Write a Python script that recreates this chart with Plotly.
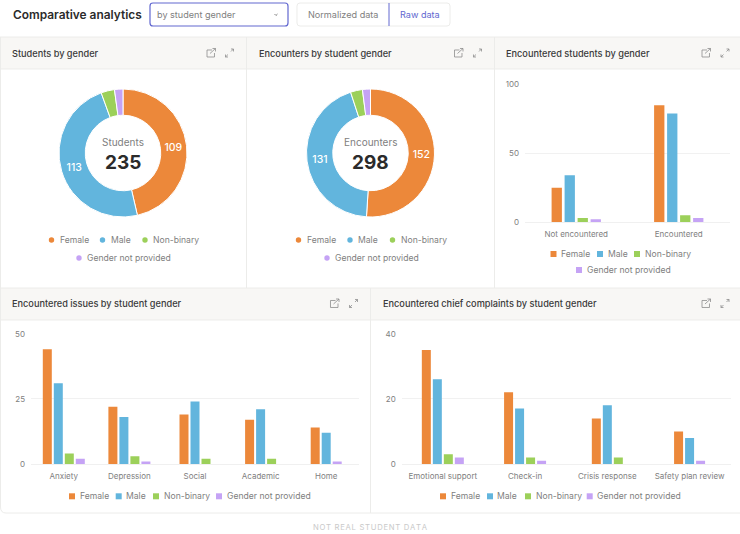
import plotly.graph_objects as go

W, H = 740, 534
GENDERS = ["Female", "Male", "Non-binary", "Gender not provided"]
COLORS = ["#EC883A", "#62B5DD", "#9CD05A", "#C5A3F5"]

students_total = 235
students_values = [109, 113, 8, 5]
encounters_total = 298
encounters_values = [152, 131, 9, 6]

enc_categories = ["Not encountered", "Encountered"]
enc_female = [25, 85]
enc_male = [34, 79]
enc_nonbinary = [3, 5]
enc_notprovided = [2, 3]
enc_ticks = [0, 50, 100]

issue_categories = ["Anxiety", "Depression", "Social", "Academic", "Home"]
issue_female = [44, 22, 19, 17, 14]
issue_male = [31, 18, 24, 21, 12]
issue_nonbinary = [4, 3, 2, 2, 0]
issue_notprovided = [2, 1, 0, 0, 1]
issue_ticks = [0, 25, 50]

complaint_categories = ["Emotional support", "Check-in", "Crisis response", "Safety plan review"]
complaint_female = [35, 22, 14, 10]
complaint_male = [26, 17, 18, 8]
complaint_nonbinary = [3, 2, 2, 0]
complaint_notprovided = [2, 1, 0, 1]
complaint_ticks = [0, 20, 40]

FONT = "Inter"
TXT = "#808080"
DARK = "#2b2b2b"
BORDER = "#ececea"
HEAD = "#f8f7f5"
ACCENT = "#6268d0"


def X(p):
    return p / W


def Y(p):
    return 1 - p / H


shapes, annos = [], []


def rect(x0, y0, x1, y1, fill=None, line=None, lw=1):
    shapes.append(dict(type="rect", xref="paper", yref="paper", x0=X(x0), y0=Y(y0), x1=X(x1), y1=Y(y1),
                       fillcolor=fill or "rgba(0,0,0,0)", line=dict(color=line or "rgba(0,0,0,0)", width=lw if line else 0),
                       layer="below"))


def seg(pts, color, lw=1):
    d = "M" + " L".join(f"{X(a):.5f},{Y(b):.5f}" for a, b in pts)
    shapes.append(dict(type="path", xref="paper", yref="paper", path=d, line=dict(color=color, width=lw), layer="above"))


def rrect(x0, y0, x1, y1, r, color, lw=1):
    q = lambda a, b: f"{X(a):.5f},{Y(b):.5f}"
    d = (f"M{q(x0+r,y0)} L{q(x1-r,y0)} Q{q(x1,y0)} {q(x1,y0+r)} L{q(x1,y1-r)} Q{q(x1,y1)} {q(x1-r,y1)} "
         f"L{q(x0+r,y1)} Q{q(x0,y1)} {q(x0,y1-r)} L{q(x0,y0+r)} Q{q(x0,y0)} {q(x0+r,y0)} Z")
    shapes.append(dict(type="path", xref="paper", yref="paper", path=d, line=dict(color=color, width=lw), layer="below"))


def text(x, y, s, size=9.1, color=TXT, anchor="left", weight=400):
    annos.append(dict(xref="paper", yref="paper", x=X(x), y=Y(y), text=s, showarrow=False, xanchor=anchor,
                      yanchor="middle", font=dict(family=FONT, size=size, color=color, weight=weight),
                      borderpad=0, borderwidth=0, align=anchor))


def icons(x1, x2, y):
    c = "#8d8d8d"
    seg([(x1 + 1, y - 3), (x1 - 4, y - 3), (x1 - 4, y + 4), (x1 + 3.5, y + 4), (x1 + 3.5, y)], c, 0.8)
    seg([(x1 - 1, y + 0.5), (x1 + 4.5, y - 4.5)], c, 0.8)
    seg([(x1 + 1.5, y - 4.5), (x1 + 4.5, y - 4.5), (x1 + 4.5, y - 1.5)], c, 0.8)
    seg([(x2 + 1.5, y - 1.5), (x2 + 4, y - 4)], c, 0.8)
    seg([(x2 + 1.5, y - 4), (x2 + 4, y - 4), (x2 + 4, y - 1.5)], c, 0.8)
    seg([(x2 - 1.5, y + 1.5), (x2 - 4, y + 4)], c, 0.8)
    seg([(x2 - 1.5, y + 4), (x2 - 4, y + 4), (x2 - 4, y + 1.5)], c, 0.8)


def dot_legend(rows):
    for i, x, y in rows:
        shapes.append(dict(type="circle", xref="paper", yref="paper", x0=X(x - 2.7), x1=X(x + 2.7), y0=Y(y + 2.7),
                           y1=Y(y - 2.7), fillcolor=COLORS[i], line=dict(width=0)))
        text(x + 8, y, GENDERS[i], size=8.6)


def square_legend(rows):
    for i, x, y in rows:
        shapes.append(dict(type="rect", xref="paper", yref="paper", x0=X(x - 3), x1=X(x + 3), y0=Y(y + 3),
                           y1=Y(y - 3), fillcolor=COLORS[i], line=dict(width=0)))
        text(x + 7.5, y, GENDERS[i], size=8.6)


# --- page furniture
text(13, 15, "Comparative analytics", size=11.9, color=DARK, weight=600)
rrect(150, 3, 288, 26, 3, ACCENT, 1.2)
text(157, 15, "by student gender")
seg([(274.5, 14), (276, 15.5), (277.5, 14)], "#777777", 0.9)
rrect(297, 3, 450, 26, 3, BORDER, 1)
seg([(389, 3), (389, 26)], ACCENT, 1)
text(307.5, 15, "Normalized data")
text(400, 15, "Raw data", color=ACCENT)

rect(0, 37, 740, 69, fill=HEAD)
rect(0, 288, 740, 320, fill=HEAD)
for y in (37, 69, 288, 320):
    seg([(0, y), (740, y)], BORDER, 1)
seg([(246.5, 37), (246.5, 288)], BORDER, 1)
seg([(494.5, 37), (494.5, 288)], BORDER, 1)
seg([(370.5, 288), (370.5, 513)], BORDER, 1)
seg([(0.5, 37), (0.5, 507)], BORDER, 1)
shapes.append(dict(type="path", xref="paper", yref="paper",
                   path=f"M{X(0.5)},{Y(507)} Q{X(0.5)},{Y(513)} {X(6)},{Y(513)} L{X(740)},{Y(513)}",
                   line=dict(color=BORDER, width=1)))

for title, x, y in [("Students by gender", 12, 53), ("Encounters by student gender", 259, 53),
                    ("Encountered students by gender", 506, 53),
                    ("Encountered issues by student gender", 12, 303.5),
                    ("Encountered chief complaints by student gender", 383, 303.5)]:
    text(x, y, title, size=9.2, color="#3a3a3a", weight=500)
for a, b, y in [(211, 229.5, 53), (458.5, 477.5, 53), (706, 725, 53), (334.5, 353.5, 303.5), (706, 725, 303.5)]:
    icons(a, b, y)
text(370, 527, "\u200a".join("NOT REAL STUDENT DATA"), size=7.7, color="#c9c9c9", anchor="center")

fig = go.Figure()


# --- donuts
def donut(vals, label, total, cx, cy):
    fig.add_trace(go.Pie(
        values=vals, labels=GENDERS, hole=0.59, sort=False, direction="clockwise", rotation=0,
        marker=dict(colors=COLORS, line=dict(color="white", width=1)),
        text=[str(v) if v > 20 else "" for v in vals], textinfo="text", textposition="inside",
        insidetextorientation="horizontal", insidetextfont=dict(family=FONT, size=10.5, color="white", weight=500),
        domain=dict(x=[X(cx - 64), X(cx + 64)], y=[Y(cy + 64), Y(cy - 64)]), showlegend=False,
    ))
    text(cx, cy - 11, label, size=10, anchor="center")
    text(cx, cy + 9, str(total), size=19, color=DARK, anchor="center", weight=700)


donut(students_values, "Students", students_total, 123, 153)
donut(encounters_values, "Encounters", encounters_total, 370.5, 153)
dot_legend([(0, 51.5, 240), (1, 102.5, 240), (2, 145, 240), (3, 79, 258)])
dot_legend([(0, 298.5, 240), (1, 350, 240), (2, 392.5, 240), (3, 327, 258)])


# --- grouped bars: a group holds only its non-empty bars, centred on the category
def grouped(axis_id, cats, series, ticks, px_box, step_px, bar_px):
    x0, x1, ytop, ybot = px_box
    n = len(cats)
    cat_px = (x1 - x0) / n
    for s, vals in enumerate(series):
        xs, ys = [], []
        for c in range(n):
            present = [k for k in range(len(series)) if series[k][c] > 0]
            if s in present:
                pos = present.index(s) - (len(present) - 1) / 2
                xs.append(c + 0.5 + pos * step_px / cat_px)
                ys.append(vals[c])
        fig.add_trace(go.Bar(x=xs, y=ys, width=bar_px / cat_px, marker=dict(color=COLORS[s], line=dict(width=0)),
                             name=GENDERS[s], showlegend=False, xaxis=f"x{axis_id}", yaxis=f"y{axis_id}"))
    fig.layout[f"xaxis{axis_id}"] = dict(
        domain=[X(x0), X(x1)], range=[0, n], tickmode="array", tickvals=[c + 0.5 for c in range(n)], ticktext=cats,
        showgrid=False, zeroline=False, showline=True, linecolor="#f0f0f0", linewidth=1, ticks="", ticklabelstandoff=4,
        tickfont=dict(family=FONT, size=8, color=TXT), anchor=f"y{axis_id}", fixedrange=True)
    fig.layout[f"yaxis{axis_id}"] = dict(
        domain=[Y(ybot), Y(ytop)], range=[0, ticks[-1]], tickmode="array", tickvals=ticks, showgrid=True,
        gridcolor="#f1f1f1", gridwidth=1, zeroline=False, showline=False, ticks="", ticklabelstandoff=5,
        tickfont=dict(family=FONT, size=8, color=TXT), anchor=f"x{axis_id}", fixedrange=True)


grouped(1, enc_categories, [enc_female, enc_male, enc_nonbinary, enc_notprovided], enc_ticks,
        (525, 730, 84.5, 222), 13, 10.3)
grouped(2, issue_categories, [issue_female, issue_male, issue_nonbinary, issue_notprovided], issue_ticks,
        (31, 359, 333.7, 464), 11, 9)
grouped(3, complaint_categories, [complaint_female, complaint_male, complaint_nonbinary, complaint_notprovided],
        complaint_ticks, (401.7, 730.7, 333.7, 464), 11, 9)
square_legend([(0, 553.5, 254), (1, 600, 254), (2, 637, 254), (3, 579, 270)])
square_legend([(0, 72, 496.3), (1, 118.7, 496.3), (2, 156, 496.3), (3, 219, 496.3)])
square_legend([(0, 443, 496.3), (1, 490, 496.3), (2, 528, 496.3), (3, 589.7, 496.3)])

fig.update_layout(width=W, height=H, margin=dict(l=0, r=0, t=0, b=0, pad=0, autoexpand=False),
                  paper_bgcolor="white", plot_bgcolor="white",
                  barmode="overlay", shapes=shapes, annotations=annos, showlegend=False,
                  font=dict(family=FONT))
fig.write_html("out.html", config=dict(displayModeBar=False),
               post_script="document.body.style.margin='0';")
